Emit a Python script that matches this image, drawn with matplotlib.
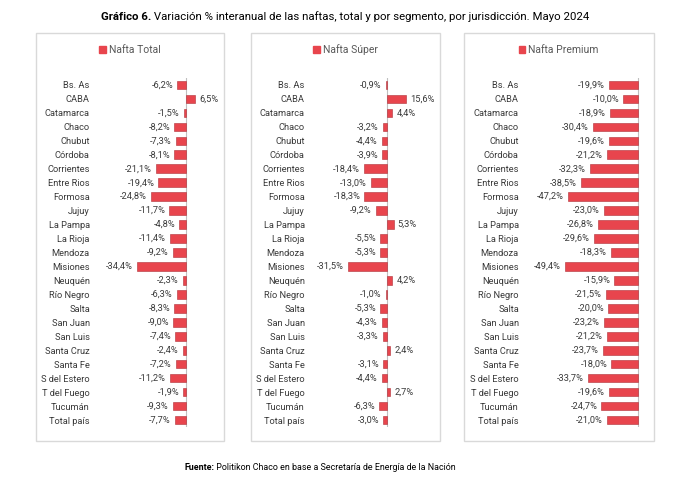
import matplotlib
matplotlib.use("Agg")
import matplotlib.pyplot as plt
from matplotlib.patches import Rectangle, Patch

plt.rcParams['font.family'] = ['Roboto', 'DejaVu Sans']

provincias = ["Bs. As", "CABA", "Catamarca", "Chaco", "Chubut", "Córdoba",
              "Corrientes", "Entre Rios", "Formosa", "Jujuy", "La Pampa",
              "La Rioja", "Mendoza", "Misiones", "Neuquén", "Río Negro",
              "Salta", "San Juan", "San Luis", "Santa Cruz", "Santa Fe",
              "S del Estero", "T del Fuego", "Tucumán", "Total país"]
nafta_total = [-6.2, 6.5, -1.5, -8.2, -7.3, -8.1, -21.1, -19.4, -24.8, -11.7,
               -4.8, -11.4, -9.2, -34.4, -2.3, -6.3, -8.3, -9.0, -7.4, -2.4,
               -7.2, -11.2, -1.9, -9.3, -7.7]
nafta_super = [-0.9, 15.6, 4.4, -3.2, -4.4, -3.9, -18.4, -13.0, -18.3, -9.2,
               5.3, -5.5, -5.3, -31.5, 4.2, -1.0, -5.3, -4.3, -3.3, 2.4,
               -3.1, -4.4, 2.7, -6.3, -3.0]
nafta_premium = [-19.9, -10.0, -18.9, -30.4, -19.6, -21.2, -32.3, -38.5, -47.2,
                 -23.0, -26.8, -29.6, -18.3, -49.4, -15.9, -21.5, -20.0, -23.2,
                 -21.2, -23.7, -18.0, -33.7, -19.6, -24.7, -21.0]
series = ["Nafta Total", "Nafta Súper", "Nafta Premium"]
valores = [nafta_total, nafta_super, nafta_premium]

W, H = 685, 487
fig = plt.figure(figsize=(W / 100, H / 100), dpi=100)
fig.patch.set_facecolor("white")

rojo = "#E8454D"
gris = "#3A3A3A"
fs = 6.7

# panel layout in pixels: (box left, box right, axes left, zero px, px per unit, axes right)
paneles = [(36, 224, 94, 186, 1.42, 222),
           (251, 440, 309, 387, 1.23, 437),
           (464, 654, 523, 638, 1.48, 652)]
box_top, box_bot = 33, 441
n = len(provincias)
row_top, row_bot = 85, 420
paso = (row_bot - row_top) / (n - 1)
ax_top = row_top - paso / 2
ax_bot = row_bot + paso / 2


def fx(px):
    return px / W


def fy(py):
    return 1 - py / H


for (bl, br, al, z, esc, ar), nombre, vals in zip(paneles, series, valores):
    fig.patches.append(Rectangle((fx(bl), fy(box_bot)), fx(br - bl), (box_bot - box_top) / H,
                                 transform=fig.transFigure, fill=False,
                                 edgecolor="#D9D9D9", linewidth=1.0))
    ax = fig.add_axes([fx(al), fy(ax_bot), fx(ar - al), (ax_bot - ax_top) / H])
    ypos = list(range(n))
    ax.barh(ypos, vals, height=0.62, color=rojo, edgecolor="#B03038", linewidth=0.4)
    ax.set_xlim(-(z - al) / esc, (ar - z) / esc)
    ax.set_ylim(n - 0.5, -0.5)
    ax.axvline(0, color="#BFBFBF", linewidth=0.8, zorder=0)
    ax.set_yticks(ypos)
    ax.set_yticklabels(provincias, fontsize=fs, color=gris)
    ax.tick_params(axis="y", length=0, pad=3)
    ax.set_xticks([])
    for s in ax.spines.values():
        s.set_visible(False)
    ax.patch.set_alpha(0)
    for y, v in zip(ypos, vals):
        txt = f"{v:.1f}%".replace(".", ",")
        if v < 0:
            ax.annotate(txt, (v, y), xytext=(-3, 0), textcoords="offset points",
                        ha="right", va="center", fontsize=fs, color=gris)
        else:
            ax.annotate(txt, (v, y), xytext=(3, 0), textcoords="offset points",
                        ha="left", va="center", fontsize=fs, color=gris)
    fig.legend(handles=[Patch(facecolor=rojo, edgecolor=rojo)], labels=[nombre],
               loc="center", bbox_to_anchor=(fx((bl + br) / 2), fy(50)),
               frameon=False, fontsize=7.5, handlelength=0.6, handleheight=0.6,
               handletextpad=0.3, labelcolor="#595959")

# title with bold lead-in
r = fig.canvas.get_renderer()
t1 = fig.text(0, fy(17), "Gráfico 6.", fontsize=8.2, fontweight="bold", va="center", color="black")
t2 = fig.text(0, fy(17), " Variación % interanual de las naftas, total y por segmento, por jurisdicción. Mayo 2024",
              fontsize=8.2, va="center", color="black")
w1 = t1.get_window_extent(r).width
w2 = t2.get_window_extent(r).width
x0 = 345 - (w1 + w2) / 2
t1.set_x(x0 / W)
t2.set_x((x0 + w1) / W)

f1 = fig.text(0, fy(467), "Fuente:", fontsize=6.4, fontweight="bold", va="center")
f2 = fig.text(0, fy(467), " Politikon Chaco en base a Secretaría de Energía de la Nación",
              fontsize=6.4, va="center")
w1 = f1.get_window_extent(r).width
w2 = f2.get_window_extent(r).width
x0 = 320 - (w1 + w2) / 2
f1.set_x(x0 / W)
f2.set_x((x0 + w1) / W)

fig.savefig("out.png", dpi=100)
